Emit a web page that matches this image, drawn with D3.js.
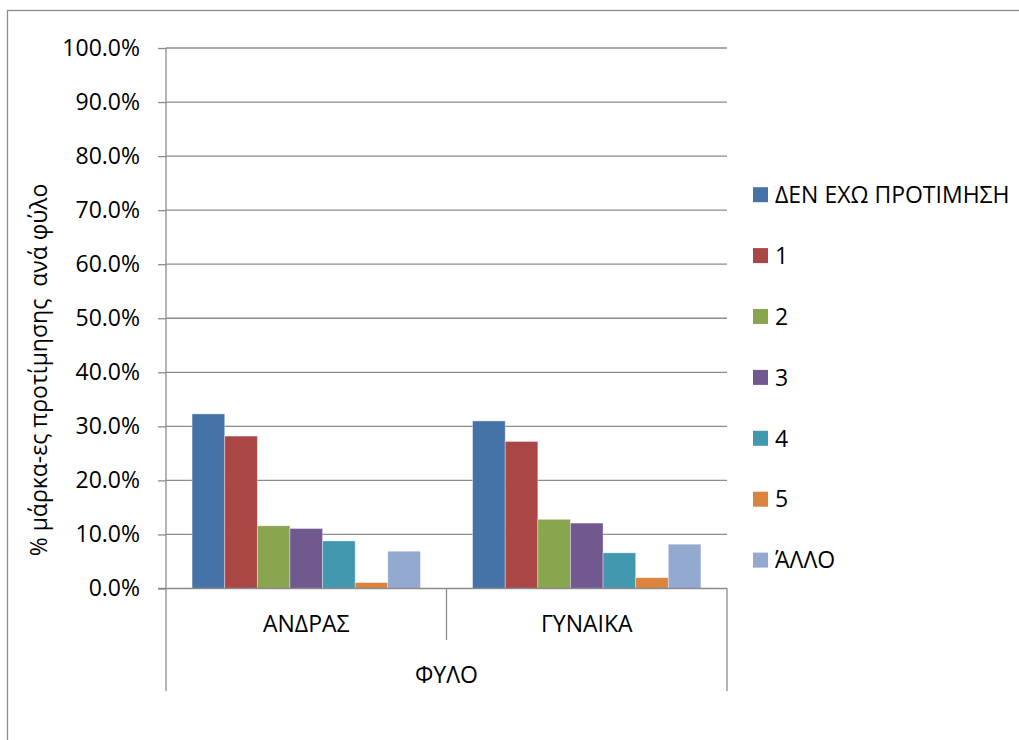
<!DOCTYPE html>
<html>
<head>
<meta charset="utf-8">
<script src="https://cdn.jsdelivr.net/npm/d3@7"></script>
<style>
  html, body { margin: 0; padding: 0; background: #fff; }
  svg text { font-family: "Open Sans", "Noto Sans", sans-serif; fill: #000; }
</style>
</head>
<body>
<svg id="chart" width="1019" height="740"></svg>
<script>
const categories = ["ΑΝΔΡΑΣ", "ΓΥΝΑΙΚΑ"];
const seriesNames = ["ΔΕΝ ΕΧΩ ΠΡΟΤΙΜΗΣΗ", "1", "2", "3", "4", "5", "ΆΛΛΟ"];
const seriesColors = ["#4572A7", "#AA4643", "#89A54E", "#71588F", "#4198AF", "#DB843D", "#93A9CF"];
// values in %, per series: [ΑΝΔΡΑΣ, ΓΥΝΑΙΚΑ]
const valuesAndras  = [32.3, 28.2, 11.6, 11.1, 8.8, 1.1, 6.9];
const valuesGynaika = [31.0, 27.2, 12.8, 12.1, 6.6, 2.0, 8.2];
const yTicks = [0, 10, 20, 30, 40, 50, 60, 70, 80, 90, 100];
const yTitle = "% μάρκα-ες προτίμησης  ανά φύλο";
const xTitle = "ΦΥΛΟ";

const svg = d3.select("#chart");
const plotLeft = 166, plotRight = 727, plotTop = 48, plotBottom = 588.5;
const fontSize = 23;
const gridColor = "#8c8c8c";

// outer chart-area border (partly off-canvas)
svg.append("rect").attr("x", 7.5).attr("y", 10.5).attr("width", 1200).attr("height", 900)
  .attr("fill", "none").attr("stroke", "#8c8c8c").attr("stroke-width", 1.3);

const y = d3.scaleLinear().domain([0, 100]).range([plotBottom, plotTop]);
const x0 = d3.scaleBand().domain(categories).range([plotLeft, plotRight]).padding(0);
const x1 = d3.scaleBand().domain(seriesNames).range([0, x0.bandwidth()]).paddingInner(0).paddingOuter(0.8);

// gridlines
svg.append("g").selectAll("line").data(yTicks.filter(d => d > 0)).join("line")
  .attr("x1", plotLeft).attr("x2", plotRight)
  .attr("y1", d => y(d)).attr("y2", d => y(d))
  .attr("stroke", gridColor).attr("stroke-width", 1.3);

// bars
const data = categories.map((c, i) => ({
  cat: c,
  vals: seriesNames.map((s, j) => ({ s, v: (i === 0 ? valuesAndras : valuesGynaika)[j], color: seriesColors[j] }))
}));
const gCat = svg.append("g").selectAll("g").data(data).join("g")
  .attr("transform", d => `translate(${x0(d.cat)},0)`);
gCat.selectAll("rect").data(d => d.vals).join("rect")
  .attr("x", d => x1(d.s))
  .attr("y", d => y(d.v))
  .attr("width", x1.bandwidth())
  .attr("height", d => y(0) - y(d.v))
  .attr("fill", d => d.color)
  .attr("stroke", "rgba(255,255,255,0.45)")
  .attr("stroke-width", 0.8);

// y axis
const yAxis = d3.axisLeft(y).tickValues(yTicks).tickSize(8).tickPadding(18)
  .tickFormat(d => d.toFixed(1) + "%");
const gy = svg.append("g").attr("transform", `translate(${plotLeft},0)`).call(yAxis);
gy.select(".domain").attr("stroke", gridColor).attr("stroke-width", 1.3).attr("d", `M0,${plotTop}V${plotBottom}`);
gy.selectAll(".tick line").attr("stroke", gridColor).attr("stroke-width", 1.3);
gy.selectAll(".tick text").attr("font-size", fontSize).attr("font-family", "Open Sans, Noto Sans, sans-serif").attr("fill", "#000");

// x axis line
svg.append("line").attr("x1", plotLeft - 8).attr("x2", plotRight).attr("y1", plotBottom).attr("y2", plotBottom)
  .attr("stroke", gridColor).attr("stroke-width", 1.3);
// category dividers
const boundaries = [plotLeft, x0(categories[1]), plotRight];
svg.append("g").selectAll("line").data(boundaries).join("line")
  .attr("x1", d => d).attr("x2", d => d)
  .attr("y1", plotBottom)
  .attr("y2", (d, i) => (i === 1 ? 640 : 691))
  .attr("stroke", gridColor).attr("stroke-width", 1.3);

// category labels
svg.append("g").selectAll("text").data(categories).join("text")
  .attr("x", d => x0(d) + x0.bandwidth() / 2)
  .attr("y", 624)
  .attr("dy", "0.35em")
  .attr("text-anchor", "middle")
  .attr("font-size", fontSize)
  .text(d => d);

// x title
svg.append("text").attr("x", (plotLeft + plotRight) / 2).attr("y", 675).attr("dy", "0.35em")
  .attr("text-anchor", "middle").attr("font-size", fontSize).text(xTitle);

// y title
svg.append("text").attr("transform", `translate(47,370) rotate(-90)`)
  .attr("text-anchor", "middle").attr("font-size", fontSize)
  .style("white-space", "pre").text(yTitle);

// legend
const legend = svg.append("g").selectAll("g").data(seriesNames).join("g")
  .attr("transform", (d, i) => `translate(753,${194.7 + i * 60.9})`);
legend.append("rect").attr("x", 0).attr("y", -7.5).attr("width", 15).attr("height", 15)
  .attr("fill", (d, i) => seriesColors[i]);
legend.append("text").attr("x", 22).attr("y", 0).attr("dy", "0.36em")
  .attr("font-size", fontSize).text(d => d);
</script>
</body>
</html>
